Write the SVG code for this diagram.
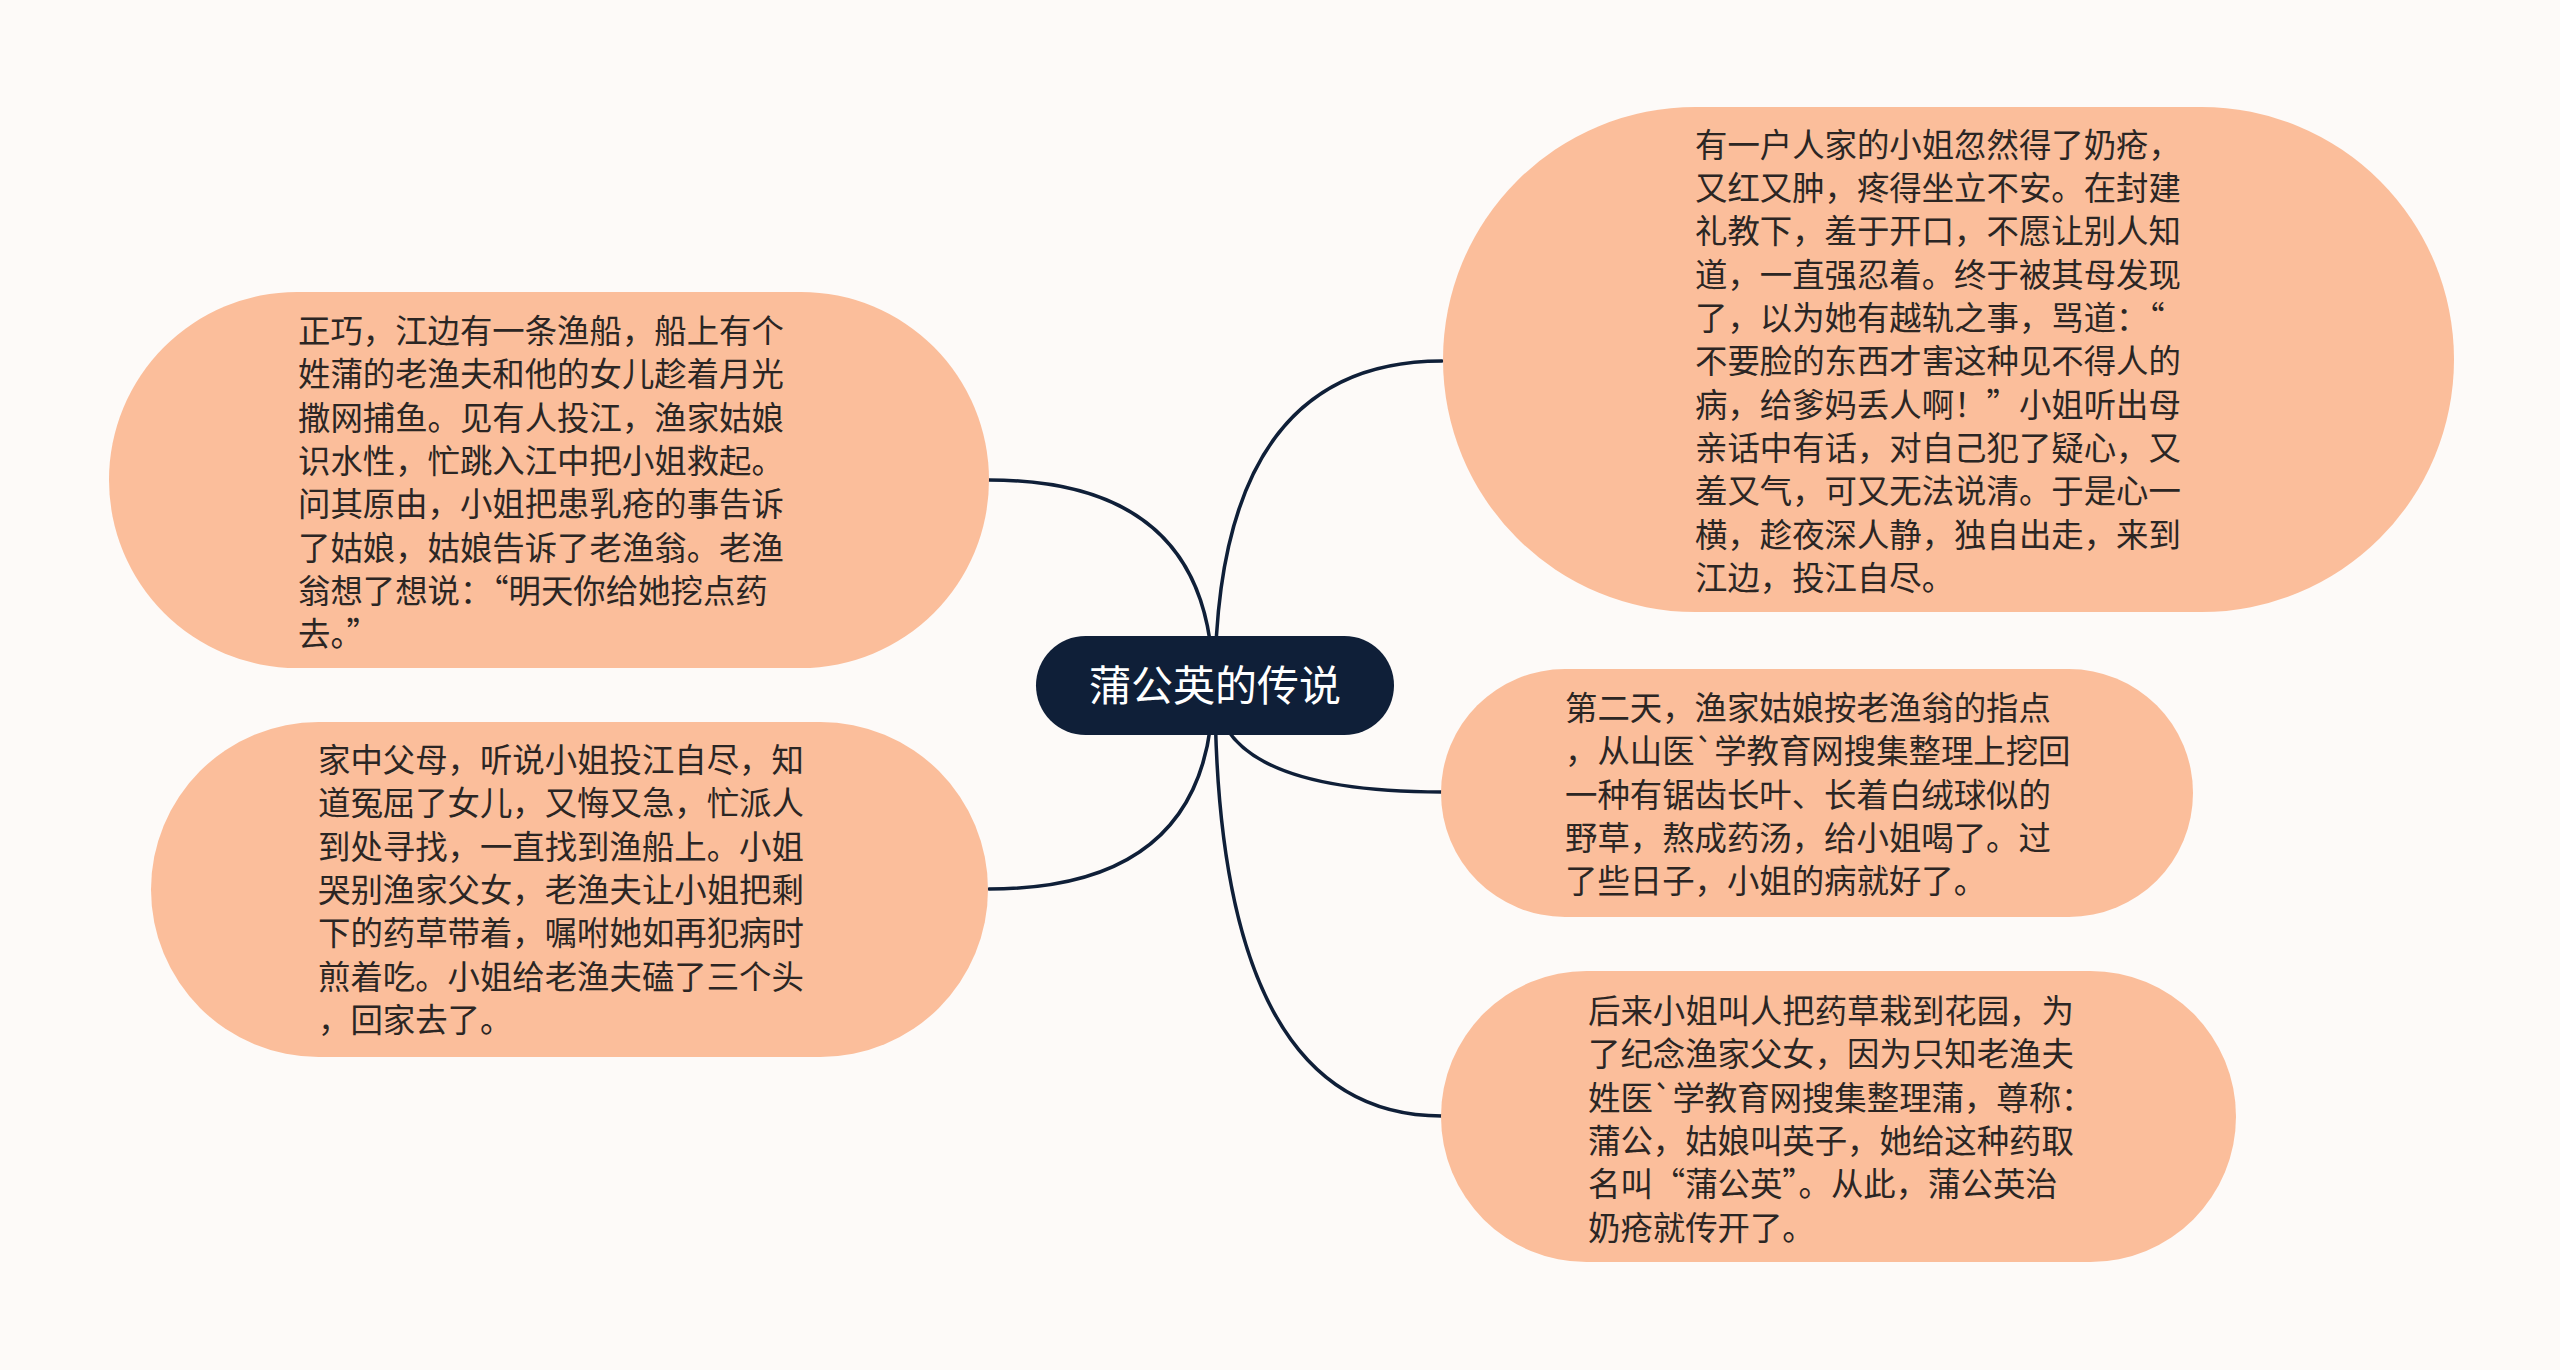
<svg xmlns="http://www.w3.org/2000/svg" width="2560" height="1370" viewBox="0 0 2560 1370">
<style>
.bg{fill:#fdfaf8}
.topic{fill:#fbbe9b}
.root{fill:#0f1f38}
.t{font-family:"Noto Sans CJK SC","Noto Sans",sans-serif;font-size:32.4px;fill:#2b2624;dominant-baseline:central}
.rt{font-family:"Noto Sans CJK SC","Noto Sans",sans-serif;font-size:42px;fill:#ffffff;dominant-baseline:central;text-anchor:middle}
.c{fill:none;stroke:#0f1f38;stroke-width:3.5;stroke-linecap:round}
</style>
<rect class="bg" x="0" y="0" width="2560" height="1370"/>
<g id="connectors">
<path class="c" d="M1215 686 Q1215 361 1442 361"/>
<path class="c" d="M1215 686 Q1215 792 1442 792"/>
<path class="c" d="M1215 686 Q1215 1116 1442 1116"/>
<path class="c" d="M1213 686 Q1213 480 989 480"/>
<path class="c" d="M1213 686 Q1213 889 989 889"/>
</g>
<g id="root">
<rect class="root" x="1036" y="636" width="358" height="99" rx="49.5"/>
<text class="rt" x="1215" y="682">蒲公英的传说</text>
</g>
<g id="node-tr">
<rect class="topic" x="1443" y="107" width="1011" height="505" rx="252.5"/>
<text class="t">
<tspan x="1695" y="142">有一户人家的小姐忽然得了奶疮，</tspan>
<tspan x="1695" y="185">又红又肿，疼得坐立不安。在封建</tspan>
<tspan x="1695" y="228">礼教下，羞于开口，不愿让别人知</tspan>
<tspan x="1695" y="272">道，一直强忍着。终于被其母发现</tspan>
<tspan x="1695" y="315">了，以为她有越轨之事，骂道：“</tspan>
<tspan x="1695" y="358">不要脸的东西才害这种见不得人的</tspan>
<tspan x="1695" y="402">病，给爹妈丢人啊！”小姐听出母</tspan>
<tspan x="1695" y="445">亲话中有话，对自己犯了疑心，又</tspan>
<tspan x="1695" y="488">羞又气，可又无法说清。于是心一</tspan>
<tspan x="1695" y="532">横，趁夜深人静，独自出走，来到</tspan>
<tspan x="1695" y="575">江边，投江自尽。</tspan>
</text>
</g>
<g id="node-lt">
<rect class="topic" x="109" y="292" width="880" height="376" rx="188"/>
<text class="t">
<tspan x="298" y="328">正巧，江边有一条渔船，船上有个</tspan>
<tspan x="298" y="371">姓蒲的老渔夫和他的女儿趁着月光</tspan>
<tspan x="298" y="415">撒网捕鱼。见有人投江，渔家姑娘</tspan>
<tspan x="298" y="458">识水性，忙跳入江中把小姐救起。</tspan>
<tspan x="298" y="501">问其原由，小姐把患乳疮的事告诉</tspan>
<tspan x="298" y="545">了姑娘，姑娘告诉了老渔翁。老渔</tspan>
<tspan x="298" y="588">翁想了想说：“明天你给她挖点药</tspan>
<tspan x="298" y="631">去。”</tspan>
</text>
</g>
<g id="node-lb">
<rect class="topic" x="151" y="722" width="837" height="335" rx="167.5"/>
<text class="t">
<tspan x="318" y="757">家中父母，听说小姐投江自尽，知</tspan>
<tspan x="318" y="800">道冤屈了女儿，又悔又急，忙派人</tspan>
<tspan x="318" y="844">到处寻找，一直找到渔船上。小姐</tspan>
<tspan x="318" y="887">哭别渔家父女，老渔夫让小姐把剩</tspan>
<tspan x="318" y="930">下的药草带着，嘱咐她如再犯病时</tspan>
<tspan x="318" y="974">煎着吃。小姐给老渔夫磕了三个头</tspan>
<tspan x="318" y="1017">，回家去了。</tspan>
</text>
</g>
<g id="node-rm">
<rect class="topic" x="1441" y="669" width="752" height="248" rx="124"/>
<text class="t">
<tspan x="1565" y="705">第二天，渔家姑娘按老渔翁的指点</tspan>
<tspan x="1565" y="748">，从山医`学教育网搜集整理上挖回</tspan>
<tspan x="1565" y="792">一种有锯齿长叶、长着白绒球似的</tspan>
<tspan x="1565" y="835">野草，熬成药汤，给小姐喝了。过</tspan>
<tspan x="1565" y="878">了些日子，小姐的病就好了。</tspan>
</text>
</g>
<g id="node-rb">
<rect class="topic" x="1441" y="971" width="795" height="291" rx="145.5"/>
<text class="t">
<tspan x="1588" y="1008">后来小姐叫人把药草栽到花园，为</tspan>
<tspan x="1588" y="1051">了纪念渔家父女，因为只知老渔夫</tspan>
<tspan x="1588" y="1095">姓医`学教育网搜集整理蒲，尊称：</tspan>
<tspan x="1588" y="1138">蒲公，姑娘叫英子，她给这种药取</tspan>
<tspan x="1588" y="1181">名叫“蒲公英”。从此，蒲公英治</tspan>
<tspan x="1588" y="1225">奶疮就传开了。</tspan>
</text>
</g>
</svg>
